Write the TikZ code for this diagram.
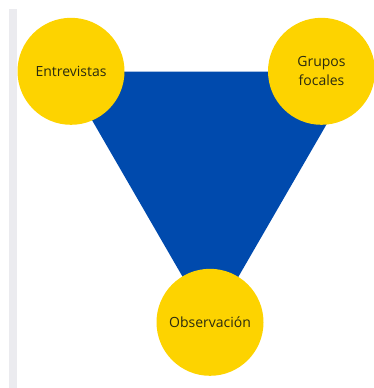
\documentclass[tikz,border=0pt]{standalone}
\usepackage{fontspec}
\setmainfont{Open Sans}
\definecolor{triblue}{HTML}{004AAD}
\definecolor{circyellow}{HTML}{FDD300}
\definecolor{bargray}{HTML}{EBEBEF}
\definecolor{txt}{HTML}{2A2A10}
\begin{document}
\begin{tikzpicture}[x=1pt,y=-1pt,
  bubble/.style={circle,fill=circyellow,minimum size=107pt,inner sep=0pt,
    text=txt,font=\fontsize{14}{19}\selectfont,align=center}]
\useasboundingbox (0,0) rectangle (374,388);
\fill[bargray] (9,9) rectangle (17,388);
\coordinate (tl) at (64,71.7);
\coordinate (tr) at (357,71.7);
\coordinate (bt) at (210.5,325);
\fill[triblue] (tl) -- (tr) -- (bt) -- cycle;
\node[bubble] (entrevistas) at (71,71.3) {Entrevistas};
\node[bubble] (grupos) at (321.5,71.3) {Grupos\\focales};
\node[bubble] (observacion) at (210,322.3) {Observación};
\end{tikzpicture}
\end{document}
